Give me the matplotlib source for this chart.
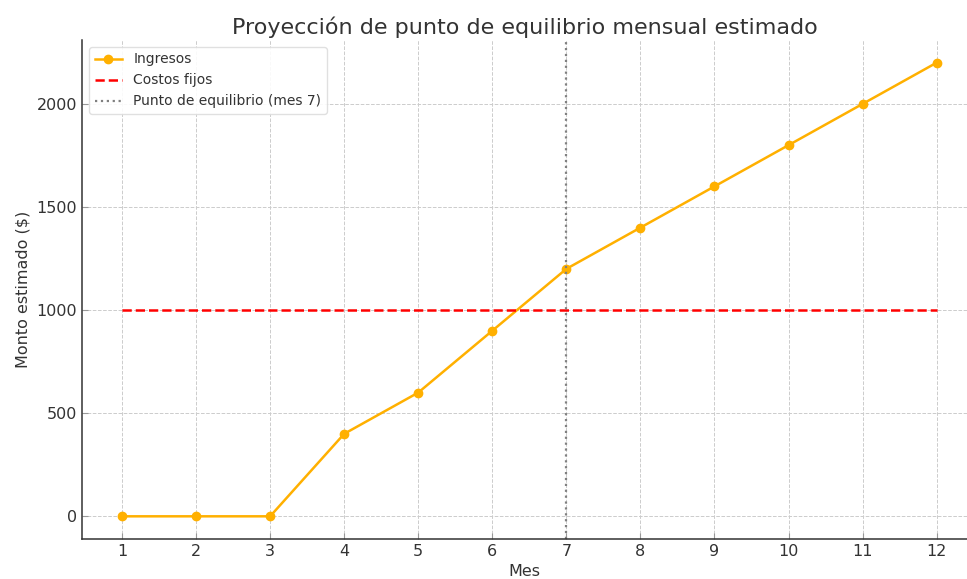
import matplotlib
matplotlib.use("Agg")
import matplotlib.pyplot as plt

meses = list(range(1, 13))
ingresos = [0, 0, 0, 400, 600, 900, 1200, 1400, 1600, 1800, 2000, 2200]
costos_fijos = [1000] * 12
mes_equilibrio = 7

plt.rcParams['font.family'] = ['DejaVu Sans']
plt.rcParams['text.color'] = '#333333'
plt.rcParams['axes.labelcolor'] = '#333333'
plt.rcParams['xtick.color'] = '#333333'
plt.rcParams['ytick.color'] = '#333333'

fig = plt.figure(figsize=(9.67, 5.79), dpi=100)
ax = fig.add_axes([82 / 967, 1 - 539 / 579, (967 - 82) / 967, (539 - 40) / 579])

ax.plot(meses, ingresos, marker='o', color='#FFB000', linewidth=1.8, markersize=6, label='Ingresos')
ax.plot(meses, costos_fijos, linestyle='--', color='#FF0000', linewidth=1.8, label='Costos fijos')
ax.axvline(mes_equilibrio, color='gray', linestyle=':', linewidth=1.6, label='Punto de equilibrio (mes 7)')

ax.set_xlim(0.46, 12.41)
ax.set_ylim(-110, 2310)
ax.set_xticks(meses)
ax.set_yticks([0, 500, 1000, 1500, 2000])
ax.grid(True, linestyle='--', color='#cccccc', linewidth=0.7)
ax.tick_params(direction='in', length=4, labelsize=11.5, color='#999999')
for s in ['top', 'right']:
    ax.spines[s].set_visible(False)
for s in ['left', 'bottom']:
    ax.spines[s].set_color('#333333')
    ax.spines[s].set_linewidth(1.1)

ax.set_title('Proyección de punto de equilibrio mensual estimado', fontsize=16, pad=4)
ax.set_xlabel('Mes', fontsize=11.5, labelpad=4)
ax.set_ylabel('Monto estimado ($)', fontsize=11.5)
ax.legend(loc='upper left', fontsize=10, framealpha=0.9, edgecolor='#dddddd')

fig.savefig('out.png', dpi=100)
